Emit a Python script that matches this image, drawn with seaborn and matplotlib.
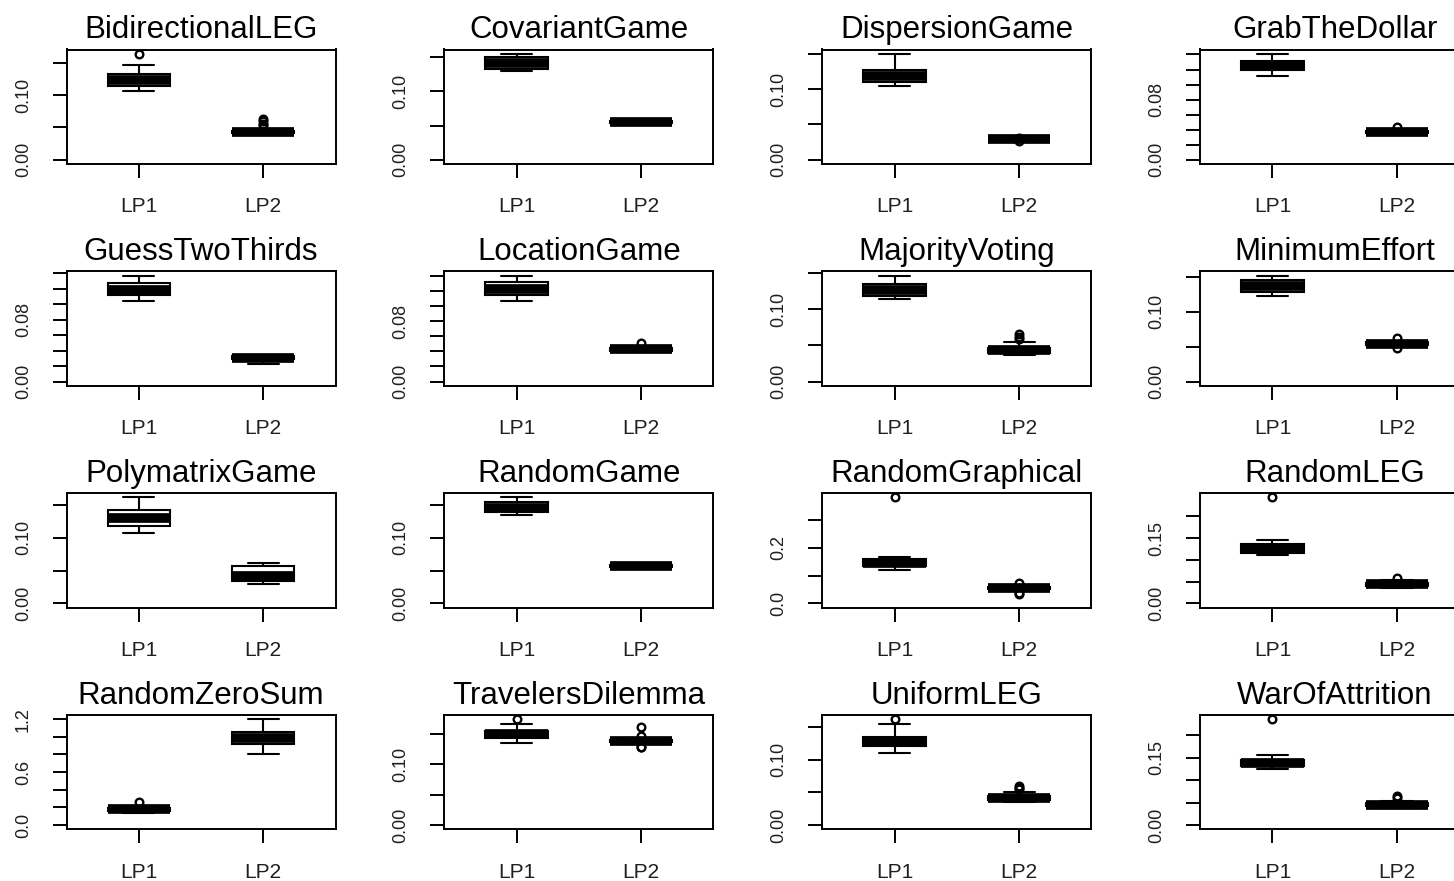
import numpy as np
import pandas as pd
import matplotlib
matplotlib.use("Agg")
from matplotlib import pyplot as plt
import seaborn as sns


titles = ["BidirectionalLEG", "CovariantGame", "DispersionGame", "GrabTheDollar",
          "GuessTwoThirds", "LocationGame", "MajorityVoting", "MinimumEffort",
          "PolymatrixGame", "RandomGame", "RandomGraphical", "RandomLEG",
          "RandomZeroSum", "TravelersDilemma", "UniformLEG", "WarOfAttrition"]
methods = ["LP1", "LP2"]

# box summaries: whisker low, Q1, median, Q3, whisker high
lp1_stats = [
    [0.106, 0.114, 0.1235, 0.132, 0.147],
    [0.130, 0.133, 0.141, 0.150, 0.155],
    [0.105, 0.1095, 0.1185, 0.1275, 0.150],
    [0.111, 0.119, 0.126, 0.132, 0.141],
    [0.104, 0.112, 0.118, 0.127, 0.137],
    [0.1066, 0.1145, 0.1225, 0.132, 0.140],
    [0.1144, 0.119, 0.127, 0.1347, 0.1466],
    [0.123, 0.129, 0.137, 0.146, 0.152],
    [0.107, 0.1186, 0.130, 0.143, 0.1616],
    [0.135, 0.140, 0.146, 0.155, 0.1616],
    [0.120, 0.134, 0.147, 0.159, 0.168],
    [0.1105, 0.117, 0.127, 0.1364, 0.145],
    [0.14, 0.165, 0.18, 0.195, 0.22],
    [0.1355, 0.143, 0.149, 0.154, 0.166],
    [0.1095, 0.120, 0.127, 0.135, 0.154],
    [0.125, 0.131, 0.138, 0.1457, 0.156],
]
lp2_stats = [
    [0.038, 0.041, 0.043, 0.045, 0.048],
    [0.053, 0.054, 0.055, 0.056, 0.057],
    [0.0285, 0.0288, 0.029, 0.0292, 0.0295],
    [0.0355, 0.036, 0.037, 0.038, 0.0385],
    [0.028, 0.029, 0.031, 0.033, 0.034],
    [0.040, 0.041, 0.0425, 0.044, 0.045],
    [0.037, 0.040, 0.043, 0.047, 0.0545],
    [0.051, 0.053, 0.0545, 0.056, 0.058],
    [0.030, 0.0347, 0.041, 0.057, 0.062],
    [0.0555, 0.056, 0.057, 0.058, 0.0585],
    [0.045, 0.051, 0.055, 0.059, 0.066],
    [0.036, 0.041, 0.045, 0.048, 0.053],
    [0.80, 0.914, 0.983, 1.06, 1.20],
    [0.134, 0.136, 0.138, 0.140, 0.143],
    [0.036, 0.039, 0.042, 0.045, 0.050],
    [0.038, 0.042, 0.045, 0.049, 0.054],
]
lp1_outliers = [[0.164], [], [], [], [], [], [], [], [], [], [0.383], [0.244],
                [0.26], [0.174], [0.1616], [0.2355]]
lp2_outliers = [[0.053, 0.056, 0.060, 0.063], [], [0.031, 0.027], [0.0435],
                [0.023], [0.051], [0.059, 0.062, 0.066], [0.062, 0.048], [], [],
                [0.074, 0.038, 0.035], [0.059], [], [0.161, 0.147, 0.129, 0.128],
                [0.055, 0.057, 0.060], [0.060, 0.064]]

ticks_05 = [0.0, 0.05, 0.10, 0.15]
ticks_02 = [0.0, 0.02, 0.04, 0.06, 0.08, 0.10, 0.12, 0.14]
ticks_20 = [0.0, 0.05, 0.10, 0.15, 0.20]
labels_05 = ["0.00", "", "0.10", ""]
labels_02 = ["0.00", "", "", "", "0.08", "", "", ""]
labels_20 = ["0.00", "", "", "0.15", ""]
y_ticks = [ticks_05, ticks_05, ticks_05, ticks_02,
           ticks_02, ticks_02, ticks_05, ticks_05,
           ticks_05, ticks_05, [0.0, 0.1, 0.2, 0.3], ticks_20,
           [0.0, 0.2, 0.4, 0.6, 0.8, 1.0, 1.2], ticks_05, ticks_05, ticks_20]
y_ticklabels = [labels_05, labels_05, labels_05, labels_02,
                labels_02, labels_02, labels_05, labels_05,
                labels_05, labels_05, ["0.0", "", "0.2", ""], labels_20,
                ["0.0", "", "", "0.6", "", "", "1.2"], labels_05, labels_05, labels_20]


sns.set_theme(style="white")
plt.rcParams["font.family"] = ["Liberation Sans", "DejaVu Sans"]

W, H = 1454, 881
fig = plt.figure(figsize=(W / 100, H / 100), dpi=100)

text_color = "#1f1f1f"
lw = 1.4

for k, title in enumerate(titles):
    row, col = divmod(k, 4)
    left = 66.5 + 377.9 * col
    top = 49.5 + 221.8 * row
    ax = fig.add_axes([left / W, 1 - (top + 114.5) / H, 269 / W, 114.5 / H])

    v1 = np.concatenate([np.repeat(lp1_stats[k], 25), lp1_outliers[k]])
    v2 = np.concatenate([np.repeat(lp2_stats[k], 25), lp2_outliers[k]])
    df = pd.DataFrame({
        "method": ["LP1"] * len(v1) + ["LP2"] * len(v2),
        "value": np.concatenate([v1, v2]),
    })

    sns.boxplot(data=df, x="method", y="value", order=methods, ax=ax,
                width=0.5, color="white", linecolor="black", linewidth=1.5,
                whis=1.5, fliersize=5.5,
                medianprops=dict(linewidth=7, solid_capstyle="butt"),
                flierprops=dict(marker="o", markerfacecolor="none",
                                markeredgecolor="black", markeredgewidth=1.7))

    top_val = df["value"].max()
    ax.set_ylim(-0.04 * top_val, 1.04 * top_val)
    ax.set_xlim(-0.58, 1.58)

    ax.set_yticks(y_ticks[k])
    ax.set_yticklabels(y_ticklabels[k], rotation=90, va="center",
                       fontsize=13, color=text_color)
    ax.set_xticks([0, 1])
    ax.set_xticklabels(methods, fontsize=15, color=text_color)
    ax.tick_params(axis="both", direction="out", length=10, width=lw,
                   color="black", left=True, bottom=True)
    ax.tick_params(axis="x", pad=14)
    ax.tick_params(axis="y", pad=15)
    ax.set_xlabel("")
    ax.set_ylabel("")

    for s in ax.spines.values():
        s.set_visible(True)
        s.set_color("black")
        s.set_linewidth(lw)

    ax.set_title(title, fontsize=22.5, pad=8, color="black")

fig.savefig("out.png", dpi=100, facecolor="white")
